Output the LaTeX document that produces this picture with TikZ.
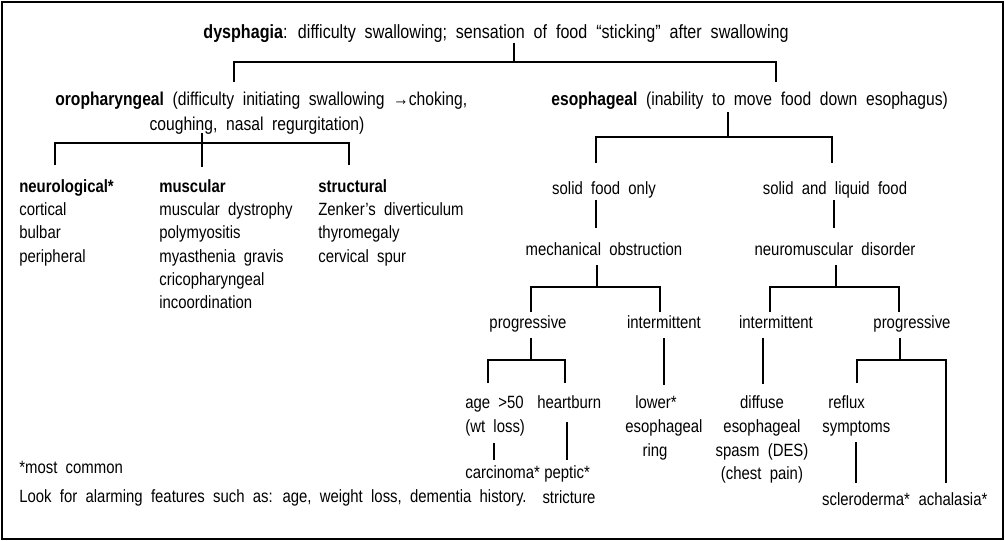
\documentclass[tikz,border=0pt]{standalone}
\usepackage{fontspec}
\setmainfont[FakeStretch=0.84,WordSpace=2]{Liberation Sans}
\begin{document}
\begin{tikzpicture}[x=0.02cm,y=-0.02cm,
  t/.style={inner sep=0pt,font=\fontsize{10.1}{12}\selectfont,anchor=base},
  tl/.style={t,anchor=base west},
  ln/.style={line width=1.1pt}]
\useasboundingbox (0,0) rectangle (1005,541);
\draw[line width=1.4pt] (2,2) rectangle (1003,539);
% title
\node[t,font=\fontsize{10.9}{12}\selectfont] (title) at (496,38) {\textbf{dysphagia}: difficulty swallowing; sensation of food “sticking” after swallowing};
\draw[ln] (514,43) -- (514,62);
\draw[ln] (234,82) -- (234,62) -- (776,62) -- (776,82);
\node[tl,font=\fontsize{10.6}{12}\selectfont] (oro) at (55,105) {\textbf{oropharyngeal} (difficulty initiating swallowing \char"2192 choking,};
\node[t,font=\fontsize{10.6}{12}\selectfont] (oro2) at (257,130) {coughing, nasal regurgitation)};
\node[tl,font=\fontsize{10.6}{12}\selectfont] (eso) at (551,105) {\textbf{esophageal} (inability to move food down esophagus)};
% oro branch
\draw[ln] (202,133) -- (202,167);
\draw[ln] (55,165) -- (55,143) -- (349,143) -- (349,165);
\node[tl] (neu) at (19,192) {\textbf{neurological*}};
\node[tl] at (19,215) {cortical};
\node[tl] at (19,238) {bulbar};
\node[tl] at (19,262) {peripheral};
\node[tl] (mus) at (159,192) {\textbf{muscular}};
\node[tl] at (159,215) {muscular dystrophy};
\node[tl] at (159,238) {polymyositis};
\node[tl] at (159,262) {myasthenia gravis};
\node[tl] at (159,285) {cricopharyngeal};
\node[tl] at (159,308) {incoordination};
\node[tl] (str) at (318,192) {\textbf{structural}};
\node[tl] at (318,215) {Zenker’s diverticulum};
\node[tl] at (318,238) {thyromegaly};
\node[tl] at (318,262) {cervical spur};
% eso branch
\draw[ln] (728,112) -- (728,137);
\draw[ln] (596,163) -- (596,137) -- (832,137) -- (832,163);
\node[t] (sol) at (604,194) {solid food only};
\node[t] (sl) at (835,194) {solid and liquid food};
\draw[ln] (596,200) -- (596,228);
\draw[ln] (834,200) -- (834,228);
\node[t] (mech) at (604,255) {mechanical obstruction};
\node[t] (nm) at (835,255) {neuromuscular disorder};
\draw[ln] (597,265) -- (597,287);
\draw[ln] (531,312) -- (531,287) -- (660,287) -- (660,312);
\draw[ln] (836,265) -- (836,287);
\draw[ln] (770,312) -- (770,287) -- (899,287) -- (899,312);
\node[t] (p1) at (528,328) {progressive};
\node[t] (i1) at (664,328) {intermittent};
\node[t] (i2) at (776,328) {intermittent};
\node[t] (p2) at (912,328) {progressive};
% left progressive
\draw[ln] (531,338) -- (531,360);
\draw[ln] (488,383) -- (488,360) -- (565,360) -- (565,383);
\node[tl] (age) at (465,408) {age >50};
\node[tl] at (465,432) {(wt loss)};
\node[tl] (hb) at (537,408) {heartburn};
\draw[ln] (494,443) -- (494,460);
\draw[ln] (567,422) -- (567,460);
\node[tl] (car) at (465,478) {carcinoma*};
\node[tl] (pep) at (544,478) {peptic*};
\node[t] at (569,503) {stricture};
% intermittent 1
\draw[ln] (664,338) -- (664,385);
\node[t] (low) at (656,408) {lower*};
\node[t] at (664,432) {esophageal};
\node[t] at (655,456) {ring};
% intermittent 2
\draw[ln] (763,338) -- (763,384);
\node[t] (dif) at (762,408) {diffuse};
\node[t] at (762,432) {esophageal};
\node[t] at (762,456) {spasm (DES)};
\node[t] at (762,479) {(chest pain)};
% right progressive
\draw[ln] (900,338) -- (900,360);
\draw[ln] (857,383) -- (857,360) -- (946,360) -- (946,483);
\node[tl] (ref) at (828,408) {reflux};
\node[tl] at (822,432) {symptoms};
\draw[ln] (856,442) -- (856,483);
\node[t] (scl) at (866,505) {scleroderma*};
\node[t] (ach) at (953,505) {achalasia*};
% notes
\node[tl] at (19,473) {*most common};
\node[tl] at (19,502) {Look for alarming features such as: age, weight loss, dementia history.};
\end{tikzpicture}
\end{document}
